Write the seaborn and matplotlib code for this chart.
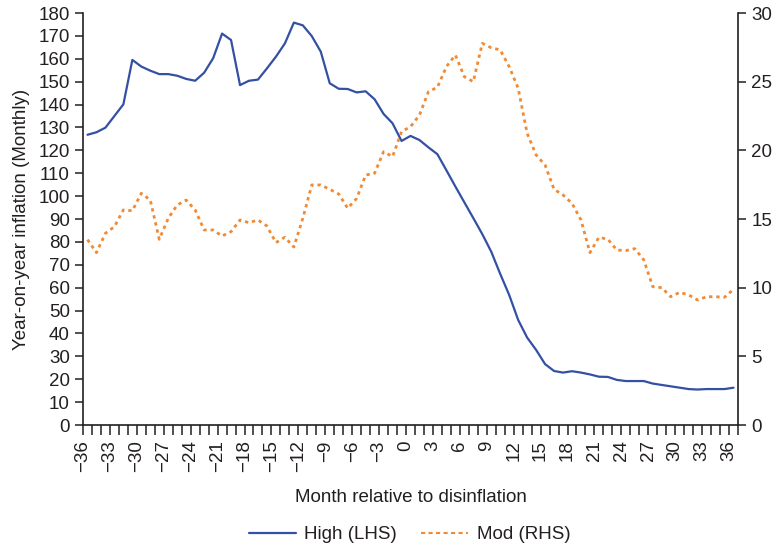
import numpy as np
import pandas as pd
import matplotlib
matplotlib.use("Agg")
import matplotlib.pyplot as plt
from matplotlib.lines import Line2D
import seaborn as sns

months = list(range(-36, 37))
high = [126.8, 127.9, 129.9, 135.0, 140.1, 159.5, 156.6, 154.8, 153.3, 153.3,
        152.6, 151.2, 150.4, 153.9, 160.2, 171.0, 168.2, 148.5, 150.4, 150.9,
        155.8, 160.9, 166.7, 175.8, 174.6, 169.9, 163.1, 149.3, 146.9, 146.8,
        145.3, 145.8, 142.3, 135.9, 131.8, 124.1, 126.3, 124.5, 121.3, 118.3,
        111.3, 104.2, 97.3, 90.4, 83.4, 75.7, 66.0, 56.8, 45.9, 38.2,
        32.8, 26.6, 23.6, 22.9, 23.5, 22.9, 22.1, 21.1, 21.0, 19.7,
        19.2, 19.2, 19.2, 18.1, 17.5, 16.9, 16.3, 15.7, 15.5, 15.7,
        15.7, 15.7, 16.3]
mod = [13.5, 12.55, 13.96, 14.44, 15.66, 15.6, 16.87, 16.38, 13.52, 15.05,
       16.02, 16.38, 15.66, 14.2, 14.2, 13.76, 14.08, 14.93, 14.73, 14.93,
       14.49, 13.28, 13.67, 12.96, 15.05, 17.48, 17.48, 17.16, 16.82, 15.78,
       16.5, 18.2, 18.33, 19.9, 19.54, 21.36, 21.72, 22.57, 24.27, 24.59,
       26.09, 26.94, 25.36, 25.0, 27.79, 27.47, 27.31, 26.09, 24.52, 21.24,
       19.66, 18.93, 17.16, 16.75, 16.14, 14.93, 12.55, 13.67, 13.52, 12.74,
       12.7, 12.84, 12.02, 10.07, 10.0, 9.34, 9.66, 9.47, 9.1, 9.34,
       9.34, 9.3, 9.88]
x_label_values = list(range(-36, 37, 3))
series_names = ["High (LHS)", "Mod (RHS)"]

df = pd.DataFrame({"month": months, "high": high, "mod": mod})

sns.set_style("ticks")
plt.rcParams["font.family"] = ["Liberation Sans", "DejaVu Sans"]
plt.rcParams["font.size"] = 13
text_color = "#231f20"
blue = "#3450a3"
orange = "#f08a34"

fig = plt.figure(figsize=(7.76, 5.48), dpi=100)
ax = fig.add_axes([83/776, 1-425/548, (738-83)/776, (425-13)/548])
ax2 = ax.twinx()

sns.lineplot(data=df, x="month", y="high", ax=ax, color=blue, lw=1.6,
             legend=False)
sns.lineplot(data=df, x="month", y="mod", ax=ax2, color=orange, lw=2.0,
             linestyle=(0, (1.2, 1.4)), legend=False)

ax.set_xlim(-36.5, 36.5)
ax.set_ylim(0, 180)
ax2.set_ylim(0, 30)
ax.set_yticks(np.arange(0, 181, 10))
ax2.set_yticks(np.arange(0, 31, 5))

tick_pos = np.arange(-36.5, 37.0, 1.0)
labels = []
for p in tick_pos:
    v = int(round(p + 0.5))
    if v in x_label_values:
        labels.append(str(v).replace("-", "\u2212"))
    else:
        labels.append("")
ax.set_xticks(tick_pos)
ax.set_xticklabels(labels, rotation=90)

for a in (ax, ax2):
    a.spines["top"].set_visible(False)
    for s in a.spines.values():
        s.set_color(text_color)
        s.set_linewidth(1.2)
    a.tick_params(colors=text_color, labelcolor=text_color, length=6, width=1.1,
                  labelsize=13.5, direction="out")
ax.tick_params(axis="x", length=7, pad=4)
ax.spines["right"].set_visible(False)
ax2.spines["left"].set_visible(False)
ax2.spines["bottom"].set_visible(False)

ax.set_ylabel("Year-on-year inflation (Monthly)", color=text_color, fontsize=13.5, labelpad=6)
ax2.set_ylabel("")
ax.set_xlabel("Month relative to disinflation", color=text_color, fontsize=13.5, labelpad=12)

handles = [Line2D([], [], color=blue, lw=1.6),
           Line2D([], [], color=orange, lw=1.5, linestyle=(0, (2.0, 1.6)))]
fig.legend(handles, series_names, loc="lower center", bbox_to_anchor=(0.528, -0.022),
           ncol=2, frameon=False, fontsize=13.5, handlelength=2.5,
           handletextpad=0.45, columnspacing=1.3, labelcolor=text_color)

fig.savefig("out.png", dpi=100)
